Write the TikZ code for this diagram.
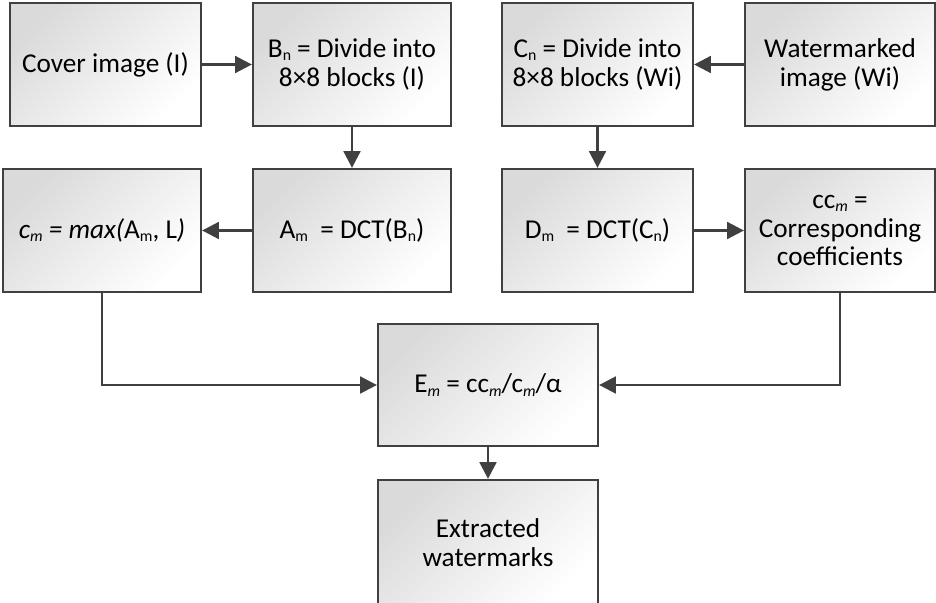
\documentclass[tikz,border=0pt]{standalone}
\usepackage{fontspec}
\setmainfont{Carlito}
\usepackage{tikz}
\usetikzlibrary{arrows.meta, positioning, calc}
\definecolor{edgegray}{RGB}{64, 64, 64}
\definecolor{shadegray}{RGB}{218, 218, 218}
\newcommand{\lowsub}[1]{\raisebox{-0.25ex}{\small #1}}
\tikzset{
  procbox/.style={draw=edgegray, line width=1.3pt, top color=shadegray, bottom color=white,
    shading angle=45, minimum height=2.46cm, inner sep=2pt, align=center,
    font=\fontsize{15.5}{16.5}\selectfont},
  flow/.style={-{Triangle[length=9.5pt, width=9.5pt]}, draw=edgegray, line width=1.5pt}
}

\begin{document}
\begin{tikzpicture}[x=0.02cm, y=-0.02cm]
  \useasboundingbox (0, 0) rectangle (936, 602);

  % Top row
  \node[procbox, minimum width=3.82cm] (cover) at (105.5, 64.5) {Cover image (I)};
  \node[procbox, minimum width=3.96cm] (bn) at (352, 64.5) {B\lowsub{n} = Divide into\\8×8 blocks (I)};
  \node[procbox, minimum width=3.82cm] (cn) at (597.5, 64.5) {C\lowsub{n} = Divide into\\8×8 blocks (Wi)};
  \node[procbox, minimum width=3.80cm] (wm) at (840, 64.5) {Watermarked\\image (Wi)};

  % Second row
  \node[procbox, minimum width=3.96cm] (cmax) at (102, 230.5) {\textit{c\lowsub{m} = max(}A\lowsub{m}, L\textit{)}};
  \node[procbox, minimum width=3.96cm] (am) at (352, 230.5) {A\lowsub{m}\ \ = DCT(B\lowsub{n})};
  \node[procbox, minimum width=3.82cm] (dm) at (597.5, 230.5) {D\lowsub{m}\ \ = DCT(C\lowsub{n})};
  \node[procbox, minimum width=3.80cm] (ccm) at (840, 230.5) {cc\lowsub{\textit{m}} =\\Corresponding\\coefficients};

  % Extraction
  \node[procbox, minimum width=4.4cm, minimum height=2.44cm] (em) at (488, 385) {E\lowsub{\textit{m}} = cc\lowsub{\textit{m}}/c\lowsub{\textit{m}}/α};
  \node[procbox, minimum width=4.4cm, minimum height=2.5cm] (ext) at (488, 542.5) {Extracted\\watermarks};

  % Connectors
  \draw[flow] (cover) -- (bn);
  \draw[flow] (wm) -- (cn);
  \draw[flow] (bn) -- (am);
  \draw[flow] (cn) -- (dm);
  \draw[flow] (am) -- (cmax);
  \draw[flow] (dm) -- (ccm);
  \draw[flow] (cmax.south) |- (em.west);
  \draw[flow] (ccm.south) |- (em.east);
  \draw[flow] (em) -- (ext);
\end{tikzpicture}
\end{document}
